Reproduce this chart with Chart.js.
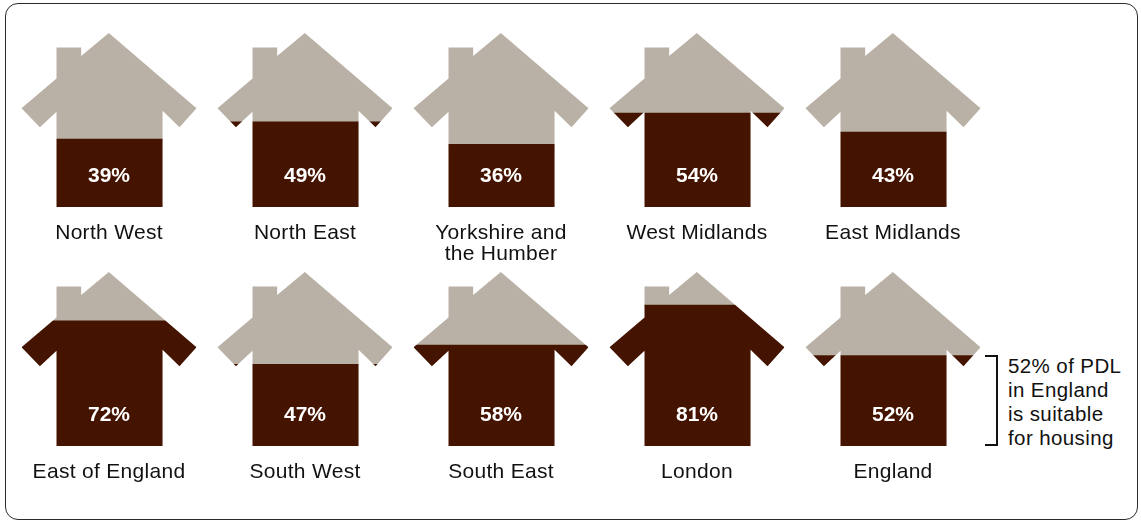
<!DOCTYPE html>
<html lang="en">
<head>
<meta charset="utf-8">
<title>PDL suitable for housing by region</title>
<script src="https://cdn.jsdelivr.net/npm/chart.js@4/dist/chart.umd.min.js"></script>
<style>
    html, body { margin: 0; padding: 0; background: #fff; }
    #page { position: relative; width: 1141px; height: 522px; overflow: hidden; }
    #frame {
        position: absolute; left: 5px; top: 3px; width: 1131px; height: 515px;
        border: 1.5px solid #2b2b2b; border-radius: 13px;
    }
    .house { position: absolute; width: 196px; height: 240px; }
    #bracket {
        position: absolute; left: 985px; top: 355px; width: 11px; height: 87px;
        border: 2.5px solid #111; border-left: none;
    }
    #note {
        position: absolute; left: 1008px; top: 354px; width: 130px;
        font: 20.5px/23.9px "Liberation Sans", Arial, sans-serif;
        letter-spacing: 0.4px; color: #111;
    }
</style>
</head>
<body>
<div id="page">
    <div id="frame"></div>
    <div id="bracket"></div>
    <div id="note">52% of PDL<br>in England<br>is suitable<br>for housing</div>
</div>
<script>
// Data
const regions = [
    'North West', 'North East', ['Yorkshire and', 'the Humber'], 'West Midlands', 'East Midlands',
    'East of England', 'South West', 'South East', 'London', 'England'
];
const suitable = [39, 49, 36, 54, 43, 72, 47, 58, 81, 52];

const colorSuitable = '#441400';
const colorRest = '#b9b0a6';
const fontFamily = '"Liberation Sans", Arial, sans-serif';

// House silhouette, as fractions of the chart area
const houseOutline = [
    [0.499, 0], [1, 0.433], [0.903, 0.542], [0.806, 0.447], [0.806, 1], [0.2, 1], [0.2, 0.453],
    [0.105, 0.542], [0, 0.433], [0.2, 0.261], [0.2, 0.084], [0.341, 0.084], [0.341, 0.132]
];

// Clip the stacked bar to the house shape
const houseClip = {
    id: 'houseClip',
    beforeDraw(chart) {
        chart.ctx.letterSpacing = '0.3px';
    },
    beforeDatasetsDraw(chart) {
        const a = chart.chartArea;
        const ctx = chart.ctx;
        ctx.save();
        ctx.beginPath();
        houseOutline.forEach(function(p, i) {
            const x = a.left + p[0] * (a.right - a.left);
            const y = a.top + p[1] * (a.bottom - a.top);
            if (i === 0) ctx.moveTo(x, y); else ctx.lineTo(x, y);
        });
        ctx.closePath();
        ctx.clip();
    },
    afterDatasetsDraw(chart) {
        chart.ctx.restore();
    },
    // Percentage inside the house
    afterDraw(chart) {
        const a = chart.chartArea;
        const ctx = chart.ctx;
        ctx.save();
        ctx.font = 'bold 21px ' + fontFamily;
        ctx.letterSpacing = '0px';
        ctx.fillStyle = '#fff';
        ctx.textAlign = 'center';
        ctx.textBaseline = 'middle';
        ctx.fillText(chart.data.datasets[0].data[0] + '%', (a.left + a.right) / 2, chart.scales.y.getPixelForValue(17.8));
        ctx.restore();
    }
};

function createHouse(index) {
    const canvas = document.createElement('canvas');
    canvas.className = 'house';
    canvas.width = 196;
    canvas.height = 240;
    canvas.style.left = (11 + (index % 5) * 196) + 'px';
    canvas.style.top = (index < 5 ? 23 : 261.5) + 'px';
    document.getElementById('page').appendChild(canvas);

    new Chart(canvas, {
        type: 'bar',
        data: {
            labels: [regions[index]],
            datasets: [
                { data: [suitable[index]], backgroundColor: colorSuitable, stack: 'share' },
                { data: [100 - suitable[index]], backgroundColor: colorRest, stack: 'share' }
            ]
        },
        plugins: [houseClip],
        options: {
            responsive: false,
            animation: false,
            layout: { padding: { left: 10.5, right: 10.5, top: 10, bottom: 0 } },
            datasets: { bar: { barPercentage: 1, categoryPercentage: 1 } },
            plugins: { legend: { display: false }, tooltip: { enabled: false } },
            scales: {
                x: {
                    stacked: true,
                    grid: { display: false },
                    border: { display: false },
                    afterFit(scale) { scale.height = 56; },
                    ticks: {
                        autoSkip: false,
                        maxRotation: 0,
                        padding: 7.5,
                        color: '#111',
                        font: { family: fontFamily, size: 21, lineHeight: 1 }
                    }
                },
                y: { stacked: true, display: false, min: 0, max: 100 }
            }
        }
    });
}

regions.forEach(function(name, i) { createHouse(i); });
</script>
</body>
</html>
